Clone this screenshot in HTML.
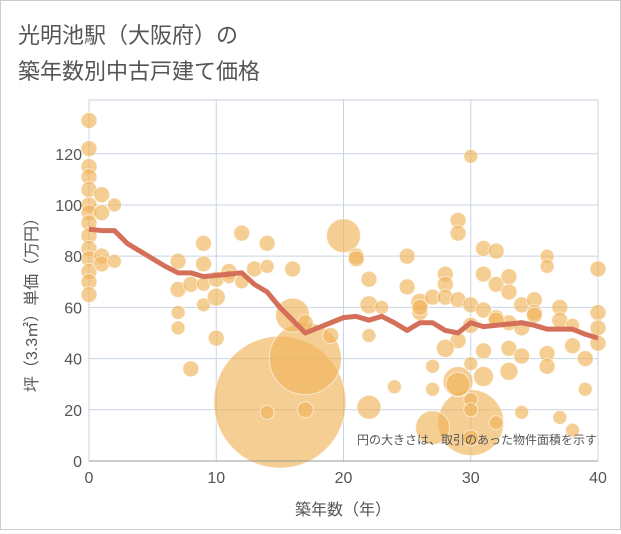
<!DOCTYPE html>
<html><head><meta charset="utf-8"><style>
body{margin:0;background:#fff;font-family:"Liberation Sans","Noto Sans CJK JP",sans-serif}
#wrap{position:relative;width:619px;height:528px;border:1px solid #ccc;background:#fff}
</style></head><body>
<div id="wrap">
<svg id="chart" width="619" height="528">
<text x="17" y="42" font-size="22" fill="#555" font-family="Liberation Sans, Noto Sans CJK JP, sans-serif">光明池駅（大阪府）の</text>
<text x="17" y="78" font-size="22" fill="#555" font-family="Liberation Sans, Noto Sans CJK JP, sans-serif">築年数別中古戸建て価格</text>
<g id="grid"></g><g id="bubbles"></g><g id="line"></g><g id="axes"></g>
<text x="596" y="443" font-size="12" fill="#555" text-anchor="end" font-family="Liberation Sans, Noto Sans CJK JP, sans-serif">円の大きさは、取引のあった物件面積を示す</text>
<text x="342" y="514" font-size="16" fill="#555" text-anchor="middle" font-family="Liberation Sans, Noto Sans CJK JP, sans-serif">築年数（年）</text>
<text transform="translate(36,300) rotate(-90)" font-size="16" fill="#555" text-anchor="middle" font-family="Liberation Sans, Noto Sans CJK JP, sans-serif">坪（3.3㎡）単価（万円）</text>
</svg></div>
<script>
const xTicks=[0,10,20,30,40];
const yTicks=[0,20,40,60,80,100,120];
const lineAges=[0,1,2,3,4,5,6,7,8,9,10,11,12,13,14,15,16,17,18,19,20,21,22,23,24,25,26,27,28,29,30,31,32,33,34,35,36,37,38,39,40];
const linePrices=[90.5,90,90,85,82,79,76,73.5,73.5,72,72.5,73,73.5,69,66,60,55,50,52,54,56,56.5,55,56.5,54,51,54,54,51,50,54,52.5,53,53.5,54,53,51.5,51.5,51.5,49.5,48];
const bAges=[15,17,16,20,30,29,27,22,0,0,0,0,0,0,0,0,0,0,0,0,0,0,1,1,1,1,2,2,7,7,7,7,8,8,9,9,9,9,10,10,10,11,11,12,12,13,14,14,14,16,17,17,19,21,21,22,22,22,23,24,25,25,26,26,27,27,27,28,28,28,29,29,29,29,30,30,30,30,30,30,31,31,31,31,32,32,32,32,33,33,33,33,34,34,34,34,35,35,36,36,36,36,37,37,37,38,38,38,39,39,40,40,40,40,29,31,33,26,28,30,32,35];
const bPrices=[23,40,57,88,15,31,13,21,133,122,115,111,106,100,97,93,88,83,79,74,70,65,104,97,80,77,100,78,78,67,58,52,69,36,85,77,69,61,71,64,48,74,72,89,70,75,85,76,19,75,54,20,49,80,79,71,61,49,60,29,80,68,58,62,64,37,28,73,69,64,94,89,63,47,119,61,53,38,24,20,83,73,59,43,82,69,56,15,72,66,54,44,61,52,41,19,63,58,80,76,42,37,60,55,17,53,45,12,40,28,75,58,52,46,30,33,35,60,44,9,55,57];
const bRadius=[66,36,17,17,33,15,17,12,8,8,8,8,8,8,8,8,8,8,8,8,8,8,8,8,8,8,7,7,8,8,7,7,8,8,8,8,7,7,8,9,8,8,7,8,7,8,8,7,7,8,8,8,8,8,8,8,9,7,7,7,8,8,8,9,8,7,7,8,8,8,8,8,8,8,7,8,8,7,7,7,8,8,8,8,8,8,8,7,8,8,8,8,8,8,8,7,8,8,7,7,8,8,8,8,7,7,8,7,8,7,8,8,8,8,12,10,9,8,9,8,8,8];
const X0=88,X1=597,Y0=460,Y1=99,YMAX=141;
const sx=v=>X0+(X1-X0)*v/40;
const sy=v=>Y0-(Y0-Y1)*v/YMAX;
const NS='http://www.w3.org/2000/svg';
function mk(t,a,p){const e=document.createElementNS(NS,t);for(const k in a)e.setAttribute(k,a[k]);p.appendChild(e);return e;}
const grid=document.getElementById('grid'),axes=document.getElementById('axes');
mk('rect',{x:X0,y:Y1,width:X1-X0,height:Y0-Y1,fill:'none',stroke:'#c8d0dc'},grid);
xTicks.forEach(t=>{const l=mk('line',{x1:sx(t),x2:sx(t),y1:Y1,y2:Y0,stroke:'#c8d4e2'},grid);


const tx=mk('text',{x:sx(t),y:Y0+22,'font-size':16,fill:'#555','text-anchor':'middle'},axes);tx.textContent=t;

});
yTicks.forEach(t=>{const l=mk('line',{x1:X0,x2:X1,y1:sy(t),y2:sy(t),stroke:'#c8d4e2'},grid);


const tx=mk('text',{x:X0-7,y:sy(t)+6,'font-size':16,fill:'#555','text-anchor':'end'},axes);tx.textContent=t;

});
mk('line',{x1:X0,x2:X1,y1:Y0,y2:Y0,stroke:'#999'},axes);
const bg=document.getElementById('bubbles');
bAges.forEach((a,i)=>{const c=mk('circle',{cx:sx(a),cy:sy(bPrices[i]),r:bRadius[i],fill:'rgba(240,180,90,0.65)',stroke:'#fff','stroke-opacity':0.6},bg);

});
const pl=mk('polyline',{points:lineAges.map((a,i)=>sx(a)+','+sy(linePrices[i])).join(' '),fill:'none',stroke:'#d4705a','stroke-width':5,'stroke-linejoin':'round'},document.getElementById('line'));


</script></body></html>
